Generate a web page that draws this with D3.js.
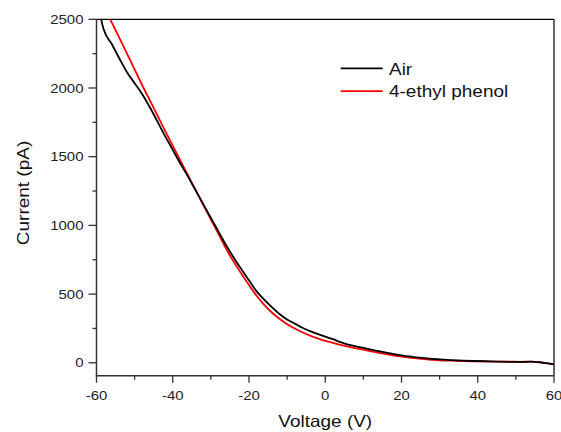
<!DOCTYPE html>
<html><head><meta charset="utf-8">
<script src="https://cdn.jsdelivr.net/npm/d3@7"></script>
<style>body{margin:0;background:#fff}svg{display:block}text{font-family:"Liberation Sans",Arial,sans-serif}</style>
</head><body><svg id="c" width="561" height="432"></svg>
<script>
const airV = [-58.8,-58.1,-56,-54,-52,-50,-48,-46,-44,-42,-40,-38,-36,-34,-32,-30,-28,-26,-24,-22,-20,-18,-16,-14,-12,-10,-8,-6,-4,-2,0,2,4,6,8,10,12,14,16,18,20,22,24,26,28,30,33,36,39,42,45,48,51,54,56,58,60];
const airI = [2500,2425,2320,2215,2115,2035,1955,1860,1755,1650,1550,1450,1355,1255,1155,1055,955,855,765,680,600,520,460,405,355,315,285,255,230,210,190,172,150,133,120,108,96,85,74,63,54,46,40,34,29,25,20,16,13,11,9,7,6,8,4,-3,-11];
const ephV = [-56.4,-54,-52,-50,-48,-46,-44,-42,-40,-38,-36,-34,-32,-30,-28,-26,-24,-22,-20,-18,-16,-14,-12,-10,-8,-6,-4,-2,0,2,4,6,8,10,12,14,16,18,20,22,24,26,28,30,33,36,39,42,45,48,51,54,56,58,60];
const ephI = [2500,2365,2250,2135,2020,1910,1800,1688,1580,1472,1365,1258,1150,1043,936,830,735,648,566,488,422,366,320,280,250,222,198,178,160,145,130,117,105,95,84,73,63,53,45,38,32,27,22,18,15,13,11,10,8,8,7,8,5,-3,-12];
const xTicks = [-60,-40,-20,0,20,40,60];
const yTicks = [0,500,1000,1500,2000,2500];
const seriesNames = ["Air","4-ethyl phenol"];
const seriesColors = ["#000000","#ff0000"];

const svg = d3.select("#c");
const L=96.5, R=554, T=19.3, B=375.7;
const x = d3.scaleLinear().domain([-60,60]).range([L,R]);
const y = d3.scaleLinear().domain([-94,2500]).range([B,T]);
const STRETCH = 1.15;
function widen(sel){
  sel.each(function(){
    const w = this.getComputedTextLength();
    d3.select(this).attr("textLength", w*STRETCH).attr("lengthAdjust","spacingAndGlyphs");
  });
  return sel;
}

svg.append("defs").append("clipPath").attr("id","clip").append("rect")
  .attr("x",L).attr("y",T).attr("width",R-L).attr("height",B-T);

const g = svg.append("g");
d3.range(-60,61,10).forEach(v=>{
  const major = v%20===0;
  g.append("line").attr("x1",x(v)).attr("x2",x(v)).attr("y1",B).attr("y2",B+(major?7:4)).attr("stroke","#333").attr("stroke-width",1.3);
});
d3.range(0,2501,250).forEach(v=>{
  const major = v%500===0;
  g.append("line").attr("x1",L).attr("x2",L-(major?8:4)).attr("y1",y(v)).attr("y2",y(v)).attr("stroke","#333").attr("stroke-width",1.3);
});
xTicks.forEach(v=>{
  widen(g.append("text").attr("x",x(v)).attr("y",B+24).attr("text-anchor","middle").attr("font-size",13).attr("fill","#222").text(v));
});
yTicks.forEach(v=>{
  widen(g.append("text").attr("x",L-13).attr("y",y(v)).attr("dy","0.36em").attr("text-anchor","end").attr("font-size",13).attr("fill","#222").text(v));
});

svg.append("line").attr("x1",L).attr("x2",R).attr("y1",T).attr("y2",T).attr("stroke","#000").attr("stroke-width",1.2);
svg.append("line").attr("x1",R).attr("x2",R).attr("y1",T).attr("y2",B).attr("stroke","#000").attr("stroke-width",1.2);
svg.append("line").attr("x1",L).attr("x2",L).attr("y1",T).attr("y2",B+0.7).attr("stroke","#333").attr("stroke-width",1.5);
svg.append("line").attr("x1",L-0.7).attr("x2",R).attr("y1",B).attr("y2",B).attr("stroke","#333").attr("stroke-width",1.5);

const line = d3.line().x(d=>x(d[0])).y(d=>y(d[1])).curve(d3.curveMonotoneX);
const data = [d3.zip(airV,airI), d3.zip(ephV,ephI)];
const pg = svg.append("g").attr("clip-path","url(#clip)");
[1,0].forEach(i=>{
  pg.append("path").datum(data[i]).attr("d",line).attr("fill","none").attr("stroke",seriesColors[i]).attr("stroke-width",1.8);
});

seriesNames.forEach((n,i)=>{
  const ly = 68.3 + i*22.8;
  svg.append("line").attr("x1",340.7).attr("x2",382.7).attr("y1",ly).attr("y2",ly).attr("stroke",seriesColors[i]).attr("stroke-width",1.8);
  widen(svg.append("text").attr("x",389).attr("y",ly+6.3).attr("font-size",16.5).attr("fill","#111").text(n));
});

widen(svg.append("text").attr("x",(L+R)/2).attr("y",426.5).attr("text-anchor","middle").attr("font-size",16.5).attr("fill","#111").text("Voltage (V)"));
widen(svg.append("text").attr("transform","translate(28.5,193) rotate(-90)").attr("text-anchor","middle").attr("font-size",16.5).attr("fill","#111").text("Current (pA)"));
</script></body></html>
